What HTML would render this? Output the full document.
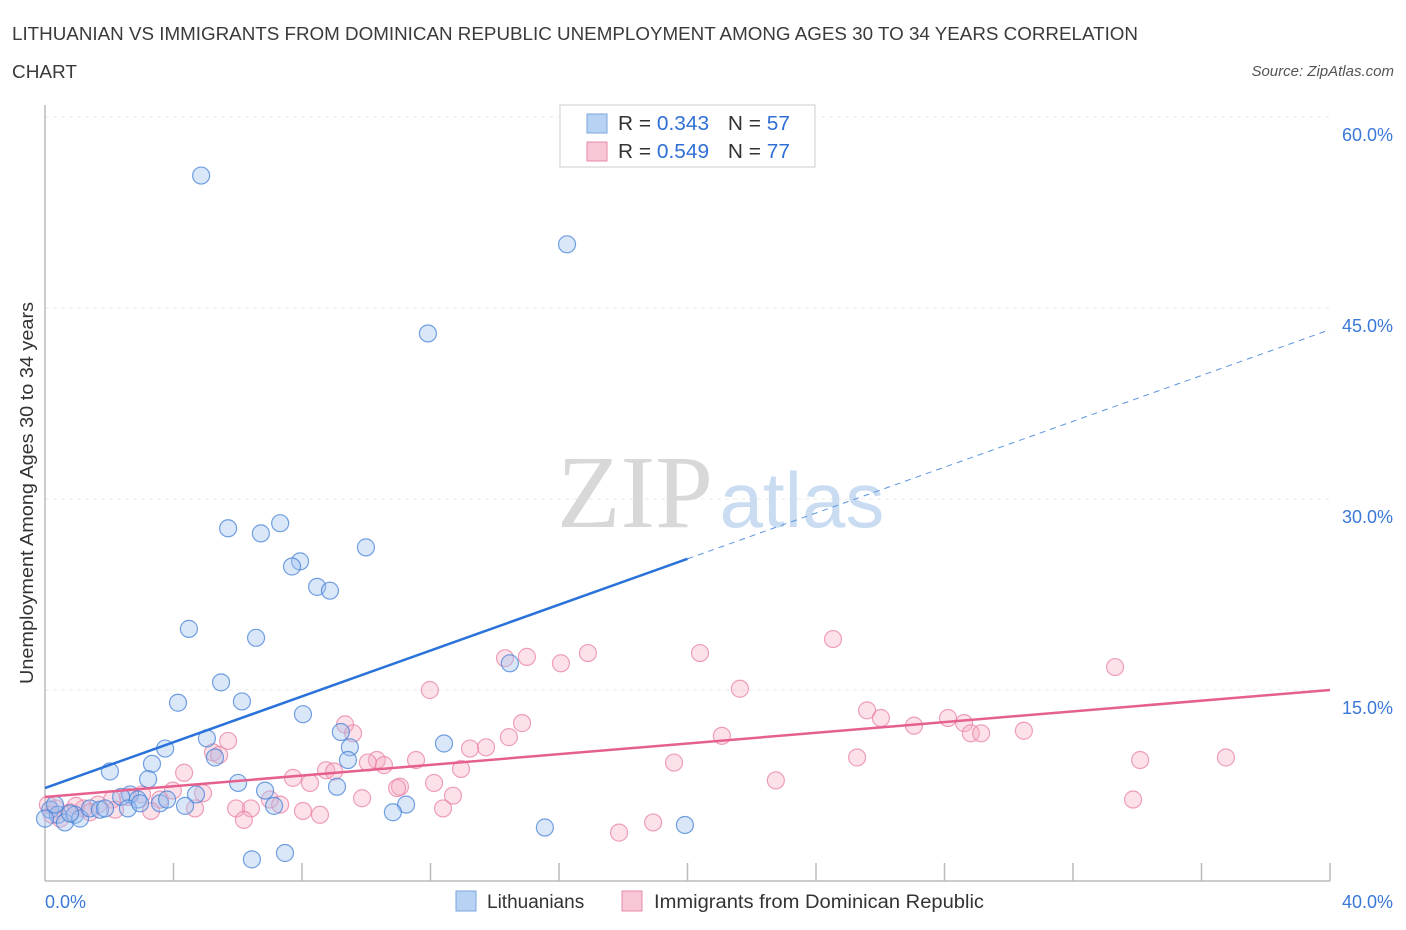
<!DOCTYPE html>
<html><head><meta charset="utf-8"><style>
body{margin:0;background:#fff;font-family:"Liberation Sans",sans-serif}
svg{display:block}
</style></head><body>
<svg id="chart" width="1406" height="930" xmlns="http://www.w3.org/2000/svg">
<text x="12" y="40" font-size="18" fill="#3a3a3a" textLength="1126" lengthAdjust="spacingAndGlyphs">LITHUANIAN VS IMMIGRANTS FROM DOMINICAN REPUBLIC UNEMPLOYMENT AMONG AGES 30 TO 34 YEARS CORRELATION</text>
<text x="12" y="78" font-size="18" fill="#3a3a3a" textLength="65" lengthAdjust="spacingAndGlyphs">CHART</text>
<text x="1394" y="76" font-size="15" fill="#555" text-anchor="end" font-style="italic">Source: ZipAtlas.com</text>
<g id="grid"></g>
<g>
<text x="635" y="527" font-family="Liberation Serif,serif" font-size="104" fill="#d8d8d8" text-anchor="middle">ZIP</text>
<text x="802" y="527" font-size="78" fill="#c9dcf2" text-anchor="middle">atlas</text>
</g>
<g id="axes"></g>
<g id="pts"></g>
<g id="lines"></g>
<text transform="translate(33,493) rotate(-90)" font-size="18" fill="#333" text-anchor="middle" textLength="382" lengthAdjust="spacingAndGlyphs">Unemployment Among Ages 30 to 34 years</text>
<g>
<rect x="560" y="105" width="255" height="62" fill="#fff" stroke="#ccc"/>
<rect x="587" y="114" width="20" height="19" fill="#b8d2f3" stroke="#7aa6dd"/>
<rect x="587" y="142" width="20" height="19" fill="#f9c6d5" stroke="#e88aa8"/>
<text x="618" y="130" font-size="20" fill="#333" textLength="172" lengthAdjust="spacingAndGlyphs">R = <tspan fill="#2f6fd6">0.343</tspan><tspan dx="18">N = </tspan><tspan fill="#2f6fd6">57</tspan></text>
<text x="618" y="158" font-size="20" fill="#333" textLength="172" lengthAdjust="spacingAndGlyphs">R = <tspan fill="#2f6fd6">0.549</tspan><tspan dx="18">N = </tspan><tspan fill="#2f6fd6">77</tspan></text>
</g>
<g>
<rect x="456" y="891" width="20" height="20" fill="#b8d2f3" stroke="#7aa6dd"/>
<text x="487" y="908" font-size="19" fill="#333">Lithuanians</text>
<rect x="622" y="891" width="20" height="20" fill="#f9c6d5" stroke="#e88aa8"/>
<text x="654" y="908" font-size="19" fill="#333" textLength="330" lengthAdjust="spacingAndGlyphs">Immigrants from Dominican Republic</text>
</g>
</svg>
<script>
const yTicks=[15,30,45,60];
const yTickLabels=["15.0%","30.0%","45.0%","60.0%"];
const xTickLabels=["0.0%","40.0%"];
const blueX=[4.86,16.25,11.92,5.70,6.72,7.32,9.99,7.94,7.69,8.47,8.87,4.48,6.57,5.48,4.14,6.13,8.03,9.21,5.04,9.49,12.42,3.74,5.29,3.33,2.02,9.43,3.21,6.01,6.85,9.09,4.70,2.65,2.89,3.58,3.80,2.37,4.36,7.13,11.24,10.83,15.56,19.92,6.44,7.47,0.16,0.40,0.62,0.93,1.09,1.40,1.71,1.87,2.58,2.96,0.31,0.78,14.47,0];
const blueY=[55.4,50.0,43.0,27.7,27.3,28.1,26.2,25.1,24.7,23.1,22.8,19.8,19.1,15.6,14.0,14.1,13.1,11.7,11.2,10.5,10.8,10.4,9.7,9.2,8.6,9.5,8.0,7.7,7.1,7.4,6.8,6.8,6.4,6.1,6.4,6.6,5.9,5.9,6.0,5.4,4.2,4.4,1.7,2.2,5.6,5.2,4.6,5.2,4.9,5.7,5.6,5.7,5.7,6.1,6.0,5.3,17.1,4.9];
const pinkX=[24.53,33.31,20.39,16.90,16.06,15.00,14.32,21.63,11.98,25.59,26.02,28.11,28.61,27.05,28.82,29.14,30.47,21.07,14.85,14.44,13.23,13.73,9.34,9.59,11.55,10.33,10.05,10.55,12.95,19.58,25.28,34.09,36.76,22.75,33.87,4.33,5.23,5.70,5.42,7.72,8.25,8.75,9.00,11.05,12.11,10.96,12.70,9.87,4.92,3.98,3.58,3.02,2.58,2.09,1.65,1.21,0.78,0.34,0.09,4.67,3.30,5.95,6.41,7.00,7.32,8.03,8.56,6.19,12.39,18.93,17.87,0.47,0.22,1.40,2.18,0.96];
const pinkY=[19.0,16.8,17.9,17.9,17.1,17.6,17.5,15.1,15.0,13.4,12.8,12.8,12.4,12.2,11.6,11.6,11.8,11.4,12.4,11.3,10.4,10.5,12.3,11.6,9.5,9.5,9.3,9.1,8.8,9.3,9.7,9.5,9.7,7.9,6.4,8.5,10.1,11.0,9.9,8.1,7.7,8.7,8.6,7.4,7.7,7.3,6.7,6.5,6.9,7.1,6.4,6.8,6.6,6.4,6.0,5.7,5.4,5.7,6.0,5.7,5.5,5.7,5.7,6.4,6.0,5.5,5.2,4.8,5.7,4.6,3.8,4.9,5.2,5.4,5.6,5.9];
const blueTrend=[7.3,43.3];
const pinkTrend=[6.6,15.0];
const NS="http://www.w3.org/2000/svg";
const X0=45,X1=1330,Y0=881,Y1=117;
const sx=v=>X0+(X1-X0)*v/40;
const sy=v=>Y0-(Y0-Y1)*v/60;
function mk(tag,attrs,parent){const e=document.createElementNS(NS,tag);for(const k in attrs)e.setAttribute(k,attrs[k]);parent.appendChild(e);return e;}
const grid=document.getElementById('grid'),axes=document.getElementById('axes');
yTicks.forEach((t,i)=>{
 const g=mk('line',{x1:X0,x2:X1,y1:sy(t),y2:sy(t),stroke:'#e8e8e8','stroke-dasharray':'4,4'},grid);
 
 
 const l=mk('text',{x:1393,y:sy(t)+24,'font-size':18,fill:'#3b78d8','text-anchor':'end'},axes);
 l.textContent=yTickLabels[i];
 
 
});
const ax=mk('line',{x1:X0,x2:X1,y1:Y0,y2:Y0,stroke:'#bbb','stroke-width':1.5},axes);


const ay=mk('line',{x1:X0,x2:X0,y1:105,y2:Y0,stroke:'#bbb','stroke-width':1.5},axes);


for(let v=4;v<=40;v+=4){
 const t=mk('line',{x1:sx(v),x2:sx(v),y1:Y0,y2:Y0-18,stroke:'#bbb','stroke-width':1.5},axes);
 
 
}
const xl0=mk('text',{x:45,y:908,'font-size':18,fill:'#3b78d8'},axes);xl0.textContent=xTickLabels[0];


const xl1=mk('text',{x:1393,y:908,'font-size':18,fill:'#3b78d8','text-anchor':'end'},axes);xl1.textContent=xTickLabels[1];


const pts=document.getElementById('pts');
pinkX.forEach((x,i)=>{
 const c=mk('circle',{cx:sx(x),cy:sy(pinkY[i]),r:8.5,fill:'rgba(245,168,192,0.35)',stroke:'rgba(232,130,165,0.75)','stroke-width':1.2},pts);
 
 
});
blueX.forEach((x,i)=>{
 const c=mk('circle',{cx:sx(x),cy:sy(blueY[i]),r:8.5,fill:'rgba(160,195,240,0.4)',stroke:'rgba(70,130,215,0.75)','stroke-width':1.2},pts);
 
 
});
const lines=document.getElementById('lines');
const bAt=v=>blueTrend[0]+(blueTrend[1]-blueTrend[0])*v/40;
const b1=mk('line',{x1:sx(0),y1:sy(bAt(0)),x2:sx(20),y2:sy(bAt(20)),stroke:'#2a72d9','stroke-width':2.5},lines);


const b2=mk('line',{x1:sx(20),y1:sy(bAt(20)),x2:sx(40),y2:sy(bAt(40)),stroke:'#5b95e0','stroke-width':1,'stroke-dasharray':'6,5'},lines);


const p1=mk('line',{x1:sx(0),y1:sy(pinkTrend[0]),x2:sx(40),y2:sy(pinkTrend[1]),stroke:'#e5608e','stroke-width':2.5},lines);


</script>
</body></html>
